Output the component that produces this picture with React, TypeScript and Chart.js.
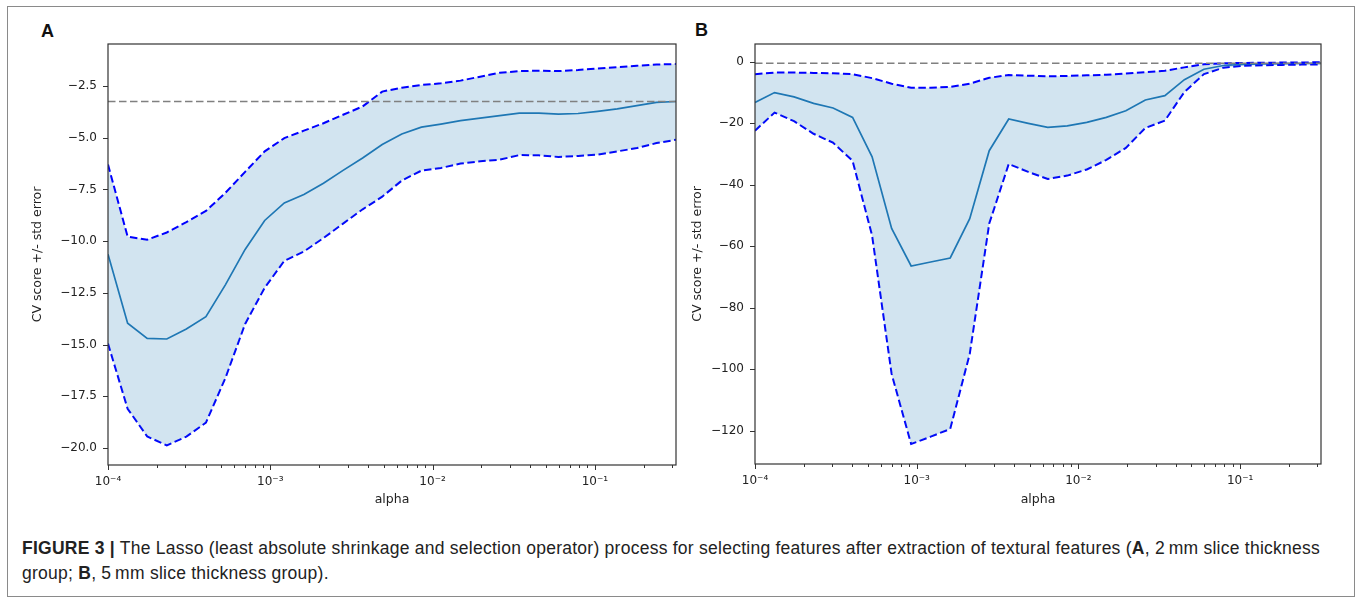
import React, { useEffect, useRef } from "react";
import { Chart, registerables } from "chart.js";

Chart.register(...registerables);

// alpha grid (x values of every point)
const ALPHAS = [
  1.0e-4, 1.321e-4, 1.744e-4, 2.303e-4, 3.039e-4, 4.013e-4, 5.298e-4, 6.996e-4, 9.237e-4, 1.22e-3,
  1.611e-3, 2.127e-3, 2.808e-3, 3.707e-3, 4.894e-3, 6.462e-3, 8.532e-3, 1.126e-2, 1.487e-2, 1.964e-2,
  2.593e-2, 3.424e-2, 4.52e-2, 5.969e-2, 7.88e-2, 0.1041, 0.1374, 0.1814, 0.2395, 0.3162,
];

// Panel A (2 mm slice thickness)
const MEAN_A = [
  -10.63, -13.97, -14.7, -14.73, -14.25, -13.65, -12.1, -10.4, -9.0, -8.15,
  -7.75, -7.2, -6.58, -5.98, -5.33, -4.82, -4.49, -4.34, -4.17, -4.05,
  -3.93, -3.81, -3.81, -3.86, -3.83, -3.73, -3.61, -3.45, -3.29, -3.25,
];
const UPPER_A = [
  -6.3, -9.78, -9.93, -9.58, -9.08, -8.54, -7.66, -6.65, -5.66, -5.02,
  -4.66, -4.3, -3.89, -3.49, -2.77, -2.58, -2.45, -2.37, -2.24, -2.05,
  -1.86, -1.78, -1.76, -1.78, -1.73, -1.65, -1.59, -1.52, -1.46, -1.44,
];
const LOWER_A = [
  -14.95, -18.1, -19.44, -19.87, -19.45, -18.77, -16.6, -14.0, -12.25, -10.95,
  -10.5, -9.85, -9.15, -8.46, -7.85, -7.07, -6.59, -6.46, -6.25, -6.14,
  -6.06, -5.84, -5.85, -5.93, -5.88, -5.82, -5.66, -5.5, -5.26, -5.1,
];

// Panel B (5 mm slice thickness)
const MEAN_B = [
  -13.2, -10.0, -11.4, -13.5, -15.0, -18.1, -30.9, -54.2, -66.4, -65.1,
  -63.8, -51.0, -28.9, -18.6, -20.0, -21.3, -20.8, -19.7, -18.05, -15.9,
  -12.4, -11.0, -5.8, -2.4, -1.2, -0.8, -0.7, -0.6, -0.55, -0.5,
];
const UPPER_B = [
  -4.0, -3.5, -3.5, -3.6, -3.7, -4.0, -5.3, -7.1, -8.4, -8.4,
  -8.2, -7.1, -5.2, -4.3, -4.5, -4.7, -4.6, -4.4, -4.2, -3.8,
  -3.35, -2.9, -1.8, -0.8, -0.5, -0.35, -0.3, -0.25, -0.2, -0.15,
];
const LOWER_B = [
  -22.4, -16.5, -19.3, -23.4, -26.3, -32.2, -56.5, -101.5, -124.3, -121.9,
  -119.4, -95.0, -52.6, -33.2, -35.8, -38.1, -37.0, -35.0, -31.9, -28.0,
  -21.5, -19.1, -9.8, -4.0, -1.9, -1.25, -1.1, -1.0, -0.9, -0.85,
];

// tick labels
const Y_TICKS_A = [-2.5, -5.0, -7.5, -10.0, -12.5, -15.0, -17.5, -20.0];
const Y_TICKS_B = [0, -20, -40, -60, -80, -100, -120];
const Y_RANGE_A = [-20.82, -0.47];
const Y_RANGE_B = [-130.8, 5.8];

const FONT = "'DejaVu Sans', sans-serif";
const TEXT = "#222";

const SUP: Record<string, string> = {
  "-": "\u207B", "0": "\u2070", "1": "\u00B9", "2": "\u00B2", "3": "\u00B3",
  "4": "\u2074", "5": "\u2075", "6": "\u2076", "7": "\u2077", "8": "\u2078", "9": "\u2079",
};

function isDecade(v: number) {
  const e = Math.log10(v);
  return Math.abs(e - Math.round(e)) < 1e-6;
}

function logTickValues(min: number, max: number) {
  const out: number[] = [];
  for (let k = Math.floor(Math.log10(min)); k <= Math.ceil(Math.log10(max)); k++) {
    for (let m = 1; m <= 9; m++) {
      const v = m * Math.pow(10, k);
      if (v >= min * (1 - 1e-9) && v <= max * (1 + 1e-9)) out.push(v);
    }
  }
  return out;
}

function decadeLabel(v: number) {
  if (!isDecade(v)) return "";
  const e = String(Math.round(Math.log10(v)));
  return "10" + e.split("").map((c) => SUP[c] || c).join("");
}

const mplAxes = {
  id: "mplAxes",
  afterDraw(chart: any) {
    const { ctx, chartArea: a, scales } = chart;
    const x = scales.x;
    const y = scales.y;
    ctx.save();
    ctx.strokeStyle = "#333";
    ctx.lineWidth = 1;
    ctx.beginPath();
    x.ticks.forEach((t: any) => {
      const px = Math.round(x.getPixelForValue(t.value)) + 0.5;
      const len = isDecade(t.value) ? 5 : 3;
      ctx.moveTo(px, a.bottom);
      ctx.lineTo(px, a.bottom + len);
    });
    y.ticks.forEach((t: any) => {
      const py = Math.round(y.getPixelForValue(t.value)) + 0.5;
      ctx.moveTo(a.left, py);
      ctx.lineTo(a.left - 5, py);
    });
    ctx.stroke();
    ctx.lineWidth = 1.2;
    ctx.strokeRect(a.left, a.top, a.right - a.left, a.bottom - a.top);
    ctx.restore();
  },
};

type PanelProps = {
  left: number;
  top: number;
  width: number;
  height: number;
  yAxisWidth: number;
  xAxisHeight: number;
  yTitlePad: number;
  mean: number[];
  upper: number[];
  lower: number[];
  yTicks: number[];
  yRange: number[];
  yDecimals: number;
};

function fmtY(v: number, dec: number) {
  const s = Math.abs(v).toFixed(dec);
  return (v < 0 ? "\u2212" : "") + s;
}

function Panel(p: PanelProps) {
  const ref = useRef<HTMLCanvasElement>(null);
  useEffect(() => {
    const pts = (arr: number[]) => arr.map((v, i) => ({ x: ALPHAS[i], y: v }));
    const best = Math.max(...p.mean);
    const dash = [7.5, 3.5];
    const xMin = ALPHAS[0];
    const xMax = ALPHAS[ALPHAS.length - 1];
    const chart = new Chart(ref.current as HTMLCanvasElement, {
      type: "line",
      data: {
        datasets: [
          {
            label: "upper",
            data: pts(p.upper),
            borderColor: "#0000ff",
            borderWidth: 2,
            borderDash: dash,
            fill: "+1",
            backgroundColor: "rgba(31,119,180,0.2)",
          },
          {
            label: "lower",
            data: pts(p.lower),
            borderColor: "#0000ff",
            borderWidth: 2,
            borderDash: dash,
            fill: false,
          },
          {
            label: "mean",
            data: pts(p.mean),
            borderColor: "#1f77b4",
            borderWidth: 1.7,
            fill: false,
          },
          {
            label: "max",
            data: [
              { x: xMin, y: best },
              { x: xMax, y: best },
            ],
            borderColor: "#808080",
            borderWidth: 1.5,
            borderDash: dash,
            fill: false,
            order: -1,
          },
        ],
      },
      options: {
        responsive: false,
        animation: false,
        devicePixelRatio: 1,
        layout: { padding: { top: 14, right: 4, left: 0, bottom: 0 } },
        elements: { line: { tension: 0 }, point: { radius: 0, hoverRadius: 0 } },
        plugins: { legend: { display: false }, tooltip: { enabled: false } },
        scales: {
          x: {
            type: "logarithmic",
            min: xMin,
            max: xMax,
            afterBuildTicks: (s: any) => {
              s.ticks = logTickValues(xMin, xMax).map((v) => ({ value: v }));
            },
            afterFit: (s: any) => {
              s.height = p.xAxisHeight;
            },
            grid: {
              display: true,
              drawOnChartArea: false,
              drawTicks: true,
              tickLength: 5,
              color: "rgba(0,0,0,0)",
              tickColor: "rgba(0,0,0,0)",
            },
            border: { display: false },
            ticks: {
              autoSkip: false,
              maxRotation: 0,
              minRotation: 0,
              padding: 5,
              color: TEXT,
              font: { family: FONT, size: 12 },
              callback: (v: any) => decadeLabel(Number(v)),
            },
            title: {
              display: true,
              text: "alpha",
              color: TEXT,
              font: { family: FONT, size: 12.5 },
              padding: { top: 0, bottom: 13 },
            },
          },
          y: {
            type: "linear",
            min: p.yRange[0],
            max: p.yRange[1],
            afterBuildTicks: (s: any) => {
              s.ticks = p.yTicks.map((v) => ({ value: v }));
            },
            afterFit: (s: any) => {
              s.width = p.yAxisWidth;
            },
            grid: {
              display: true,
              drawOnChartArea: false,
              drawTicks: true,
              tickLength: 5,
              color: "rgba(0,0,0,0)",
              tickColor: "rgba(0,0,0,0)",
            },
            border: { display: false },
            ticks: {
              autoSkip: false,
              padding: 6,
              color: TEXT,
              font: { family: FONT, size: 12 },
              callback: (v: any) => fmtY(Number(v), p.yDecimals),
            },
            title: {
              display: true,
              text: "CV score +/- std error",
              color: TEXT,
              font: { family: FONT, size: 12.5 },
              padding: { top: p.yTitlePad, bottom: 0 },
            },
          },
        },
      } as any,
      plugins: [mplAxes],
    });
    return () => chart.destroy();
  }, []);
  return (
    <canvas
      ref={ref}
      width={p.width}
      height={p.height}
      style={{ position: "absolute", left: p.left, top: p.top, width: p.width, height: p.height }}
    />
  );
}

const labelStyle: React.CSSProperties = {
  position: "absolute",
  fontFamily: "'Liberation Sans', Arial, sans-serif",
  fontWeight: "bold",
  fontSize: 18,
  lineHeight: "18px",
  color: "#111",
};

export default function App() {
  return (
    <div
      style={{
        position: "absolute",
        left: 0,
        top: 0,
        width: 1357,
        height: 600,
        background: "#fff",
        overflow: "hidden",
      }}
    >
      <div
        style={{
          position: "absolute",
          left: 7,
          top: 6,
          width: 1348,
          height: 591,
          border: "1px solid #8a8a8a",
          boxSizing: "border-box",
        }}
      />
      <div style={{ ...labelStyle, left: 41, top: 22 }}>A</div>
      <div style={{ ...labelStyle, left: 695, top: 21 }}>B</div>
      <Panel
        left={20}
        top={30}
        width={660}
        height={490}
        yAxisWidth={88}
        xAxisHeight={55}
        yTitlePad={10}
        mean={MEAN_A}
        upper={UPPER_A}
        lower={LOWER_A}
        yTicks={Y_TICKS_A}
        yRange={Y_RANGE_A}
        yDecimals={1}
      />
      <Panel
        left={690}
        top={30}
        width={635}
        height={490}
        yAxisWidth={65}
        xAxisHeight={56}
        yTitlePad={0}
        mean={MEAN_B}
        upper={UPPER_B}
        lower={LOWER_B}
        yTicks={Y_TICKS_B}
        yRange={Y_RANGE_B}
        yDecimals={0}
      />
      <div
        style={{
          position: "absolute",
          left: 22,
          top: 536,
          width: 1330,
          fontFamily: "'Liberation Sans', Arial, sans-serif",
          fontSize: 17.5,
          letterSpacing: "0.25px",
          lineHeight: "25px",
          color: "#222",
          whiteSpace: "nowrap",
        }}
      >
        <b>FIGURE 3 |</b> The Lasso (least absolute shrinkage and selection operator) process for selecting
        features after extraction of textural features (<b>A</b>, 2{"\u2009"}mm slice thickness
        <br />
        group; <b>B</b>, 5{"\u2009"}mm slice thickness group).
      </div>
    </div>
  );
}
